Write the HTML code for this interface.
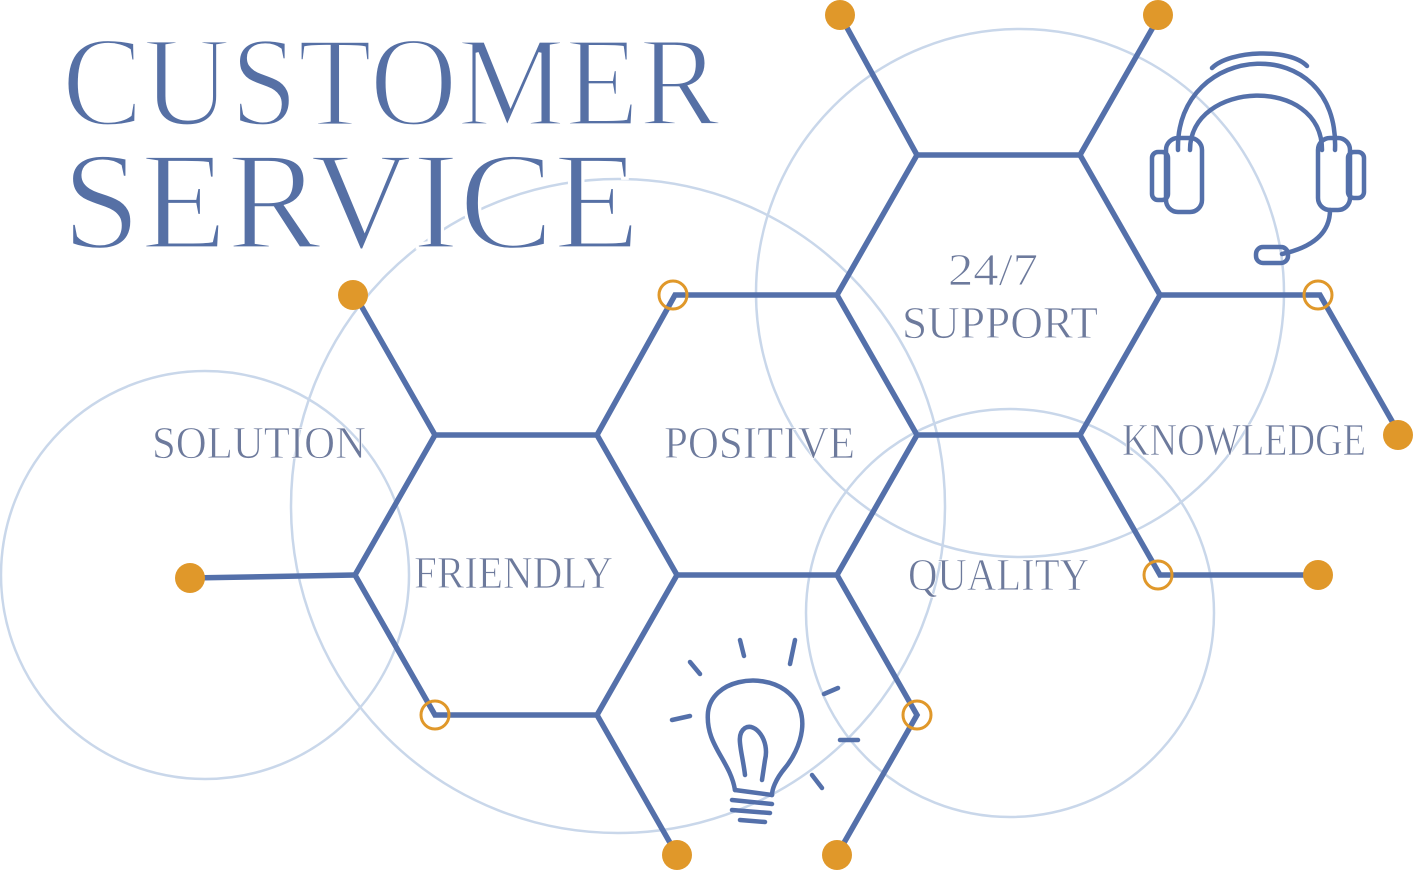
<!DOCTYPE html>
<html><head><meta charset="utf-8"><style>
html,body{margin:0;padding:0;background:#fff;}
svg{display:block}
</style></head><body>
<svg width="1414" height="870" viewBox="0 0 1414 870" xmlns="http://www.w3.org/2000/svg">
<g fill="none" stroke="#c9d7ea" stroke-width="2.5">
<circle cx="205" cy="575" r="204"/>
<circle cx="618" cy="506" r="327"/>
<circle cx="1020" cy="293" r="264"/>
<circle cx="1010" cy="613" r="204"/>
</g>
<g font-family="Liberation Serif, serif" fill="#5670a5" stroke="#fff" stroke-width="3.2">
<text x="62" y="125" font-size="128" textLength="658" lengthAdjust="spacingAndGlyphs">CUSTOMER</text>
<text x="62" y="248" font-size="140" textLength="578" lengthAdjust="spacingAndGlyphs">SERVICE</text>
</g>
<g stroke="#5470aa" stroke-width="5.5" stroke-linecap="round" fill="none">
<path d="M355 295 L435 435 L597 435 L675 295 L837 295 L917 155 L1080 155 L1160 15"/>
<path d="M917 155 L840 15"/>
<path d="M837 295 L917 435 L1080 435 L1160 295 L1320 295 L1400 435"/>
<path d="M1080 155 L1160 295"/>
<path d="M1080 435 L1160 575 L1320 575"/>
<path d="M435 435 L355 575 L435 715 L597 715 L677 575 L837 575 L917 715 L837 855"/>
<path d="M190 578 L355 575"/>
<path d="M597 435 L677 575"/>
<path d="M917 435 L837 575"/>
<path d="M597 715 L677 855"/>
</g>
<g fill="#e0982a">
<circle cx="353" cy="295" r="15"/><circle cx="840" cy="15" r="15"/><circle cx="1158" cy="15" r="15"/>
<circle cx="1398" cy="435" r="15"/><circle cx="190" cy="578" r="15"/><circle cx="1318" cy="575" r="15"/>
<circle cx="677" cy="855" r="15"/><circle cx="837" cy="855" r="15"/>
</g>
<g fill="none" stroke="#e0982a" stroke-width="3">
<circle cx="673" cy="295" r="14"/><circle cx="1318" cy="295" r="14"/><circle cx="1158" cy="575" r="14"/>
<circle cx="435" cy="715" r="14"/><circle cx="917" cy="715" r="14"/>
</g>
<g font-family="Liberation Serif, serif" fill="#6d7a9c" font-size="46" stroke="#fff" stroke-width="0.8">
<text x="152" y="458" textLength="214" lengthAdjust="spacingAndGlyphs">SOLUTION</text>
<text x="664" y="458" textLength="191" lengthAdjust="spacingAndGlyphs">POSITIVE</text>
<text x="1122" y="455" textLength="244" lengthAdjust="spacingAndGlyphs">KNOWLEDGE</text>
<text x="414" y="588" textLength="199" lengthAdjust="spacingAndGlyphs">FRIENDLY</text>
<text x="908" y="590" textLength="181" lengthAdjust="spacingAndGlyphs">QUALITY</text>
<text x="948" y="285" textLength="90" lengthAdjust="spacingAndGlyphs">24/7</text>
<text x="902" y="338" textLength="196" lengthAdjust="spacingAndGlyphs">SUPPORT</text>
</g>
<!-- headset -->
<g stroke="#5470aa" stroke-width="4.5" fill="none" stroke-linecap="round">
<path d="M1178 150 C1175 40 1340 30 1335 150"/>
<path d="M1190 150 C1190 80 1322 75 1322 150"/>
<path d="M1212 68 C1230 50 1290 48 1307 66"/>
<rect x="1166" y="138" width="36" height="74" rx="12"/>
<rect x="1152" y="152" width="16" height="48" rx="6"/>
<rect x="1318" y="138" width="32" height="72" rx="12"/>
<rect x="1348" y="152" width="16" height="46" rx="6"/>
<path d="M1330 210 C1330 240 1300 250 1282 254"/>
<rect x="1256" y="247" width="32" height="16" rx="7"/>
</g>
<!-- bulb -->
<g stroke="#5470aa" stroke-width="4.5" fill="none" stroke-linecap="round">
<path d="M735 790 C730 760 705 745 708 712 C712 680 760 672 785 690 C815 712 800 750 785 768 C775 780 772 790 772 795"/>
<path d="M735 790 L772 795 M732 800 L772 804 M732 810 L770 813 M740 820 L765 822"/>
<path d="M745 775 C742 750 735 735 745 728 C755 722 770 740 765 760 L762 780"/>
<path d="M690 662 L700 674 M740 640 L744 656 M795 640 L790 664 M838 688 L824 694 M840 740 L858 740 M672 720 L690 716 M812 775 L822 788"/>
</g>
</svg>
</body></html>
